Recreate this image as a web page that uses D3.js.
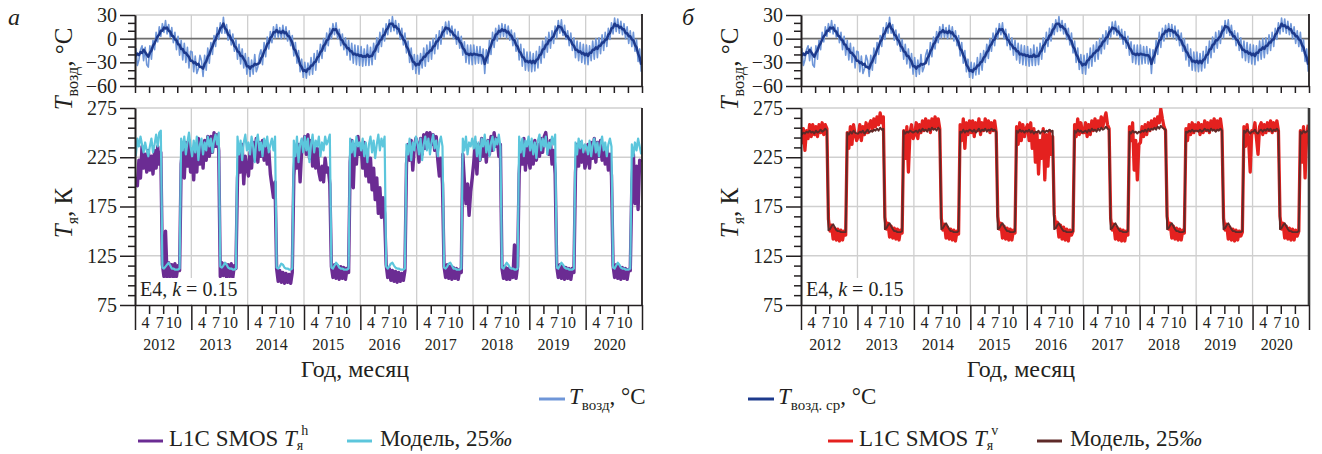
<!DOCTYPE html>
<html><head><meta charset="utf-8">
<script src="https://cdn.jsdelivr.net/npm/d3@7"></script>
<style>
body{margin:0;background:#fff;}
svg{display:block;}
svg text{font-family:'Liberation Serif','Times New Roman',Tinos,'DejaVu Serif',serif;}
</style></head><body>
<svg id="c" width="1322" height="454"></svg>
<script>
// ---------- DATA (36 samples per year, ~10-day steps) ----------
const years = [2012,2013,2014,2015,2016,2017,2018,2019,2020];
const monthLabels = ["4","7","10"];
const topMajorTicks = [30,0,-30,-60];
const topMinorTicks = [20,10,-10,-20,-40,-50];
const botMajorTicks = [275,225,175,125,75];
const botMinorTicks = [265,255,245,235,215,205,195,185,165,155,145,135,115,105,95,85];

// daily air temperature, °C (light blue)
const airRaw = [
 [-12,-34,-27,-14,-9,-28,-11,-33,-36,-9,-26,-2,-14,8,-4,15,3,19,8,23,6,18,2,14,-5,8,-14,3,-21,-2,-27,-6,-30,-11,-37,-16],
 [-17,-42,-22,-44,-38,-21,-28,-48,-21,-40,-12,-31,-5,-20,4,-10,14,-1,20,7,27,7,18,-2,11,-8,6,-16,-1,-26,-7,-32,-13,-37,-19,-45],
 [-24,-48,-27,-45,-20,-42,-36,-21,-14,-33,-5,-23,2,-13,9,-5,15,1,18,2,14,0,17,1,15,-3,10,-9,4,-22,-5,-31,-15,-42,-26,-49],
 [-30,-50,-31,-46,-24,-45,-19,-40,-15,-30,-7,-25,0,-16,7,-9,13,0,19,5,20,0,12,-9,6,-14,1,-21,-2,-27,-6,-31,-8,-33,-9,-34],
 [-10,-35,-13,-34,-8,-34,-11,-33,-6,-26,1,-17,8,-10,13,-3,19,5,24,9,28,10,23,6,19,-1,13,-8,7,-18,-3,-30,-12,-39,-20,-44],
 [-21,-45,-19,-37,-12,-35,-8,-29,-4,-26,0,-19,5,-13,10,-7,15,2,21,6,22,4,16,0,12,-7,9,-12,3,-21,-4,-30,-8,-32,-8,-33],
 [-8,-32,-10,-31,-10,-32,-13,-44,-14,-31,-2,-20,8,-11,13,-3,17,2,19,3,18,1,16,-2,11,-9,7,-16,0,-27,-7,-35,-13,-40,-17,-41],
 [-17,-42,-19,-41,-16,-37,-10,-31,-3,-24,2,-17,8,-12,10,-6,16,1,23,7,24,4,17,-1,10,-9,7,-15,1,-24,-3,-28,-5,-30,-7,-32],
 [-8,-33,-9,-28,-3,-26,0,-24,1,-19,5,-15,8,-10,13,-1,20,6,26,9,25,7,22,5,19,0,15,-6,10,-10,8,-16,-1,-29,-13,-42]
];
// smoothed air temperature, °C (dark blue)
const airMean = [
 [-22,-19,-21,-17,-18,-14,-17,-20,-23,-18,-15,-9,-6,-1,3,5,10,10,14,13,14,10,9,4,3,-1,-2,-7,-8,-13,-13,-18,-18,-21,-23,-28],
 [-28,-31,-30,-33,-32,-36,-36,-38,-32,-29,-23,-20,-14,-10,-4,-1,5,7,13,15,19,13,11,5,4,-1,-3,-9,-11,-16,-17,-22,-22,-26,-29,-35],
 [-35,-38,-35,-35,-32,-33,-32,-31,-25,-22,-16,-13,-7,-5,1,3,8,8,11,8,9,7,10,7,8,4,3,-1,-5,-13,-15,-21,-25,-33,-36,-41],
 [-40,-42,-38,-38,-34,-34,-30,-29,-24,-22,-17,-15,-9,-7,-2,-1,5,7,12,11,12,7,5,-1,-2,-7,-8,-12,-12,-16,-16,-20,-19,-21,-20,-22],
 [-21,-23,-22,-23,-20,-23,-22,-22,-17,-15,-9,-7,-2,-1,4,5,11,13,18,19,19,15,16,13,12,6,4,-1,-3,-10,-13,-20,-23,-29,-30,-34],
 [-32,-33,-28,-27,-23,-23,-19,-18,-15,-15,-10,-9,-4,-3,1,2,8,10,14,13,13,9,9,5,4,0,1,-4,-6,-12,-14,-19,-19,-21,-19,-21],
 [-19,-20,-20,-21,-21,-21,-24,-32,-25,-21,-13,-9,-2,-1,5,6,10,9,12,10,11,8,9,5,4,-1,-2,-8,-10,-16,-18,-23,-24,-29,-28,-30],
 [-28,-31,-28,-31,-27,-26,-21,-20,-14,-13,-8,-7,-2,-2,1,3,9,11,16,15,14,9,8,3,3,-1,-2,-7,-9,-14,-14,-17,-16,-19,-18,-21],
 [-19,-22,-18,-18,-14,-14,-11,-13,-9,-9,-5,-5,-1,-1,5,7,13,14,19,16,17,14,15,12,12,7,7,3,3,-1,-2,-8,-11,-19,-24,-33]
];
// L1C SMOS Tb, h-pol, K (purple)
const tbH = [
 [205,196,222,204,236,214,228,210,232,212,226,208,232,214,236,218,230,116,104,150,103,118,104,116,103,117,104,115,110,218,236,204,240,216,242,210],
 [232,202,238,210,244,218,238,214,242,222,246,226,246,230,250,236,248,232,104,118,105,117,103,116,104,117,103,115,112,204,230,210,238,198,226,214],
 [206,230,214,240,222,244,220,240,226,242,222,238,218,232,208,196,184,200,112,99,110,98,108,97,107,98,106,97,108,206,232,214,238,200,232,240],
 [246,228,248,224,242,216,238,214,234,210,202,216,200,224,210,214,198,114,103,116,102,115,101,114,102,113,101,112,108,220,242,194,238,218,246,228],
 [236,214,240,206,232,200,224,192,214,182,204,168,194,164,184,168,116,103,112,100,110,99,109,98,108,99,107,100,110,218,238,222,242,212,236,244],
 [238,220,244,228,248,234,250,236,250,238,248,232,246,222,206,224,198,114,103,116,102,114,101,113,102,112,101,111,108,228,200,178,198,166,190,204],
 [220,240,208,238,222,244,226,240,220,242,228,246,232,250,236,244,226,238,112,102,114,101,112,101,111,103,136,102,114,208,238,218,244,212,240,222],
 [214,236,218,242,222,238,226,244,230,246,250,236,228,242,218,232,208,114,103,116,102,114,101,113,102,112,101,112,108,210,238,216,240,220,236,214],
 [220,238,214,240,224,244,220,240,226,242,222,238,218,234,212,228,206,115,103,116,102,114,101,113,102,112,101,111,110,196,228,178,216,172,222,220]
];
// model h-pol, 25‰ (cyan)
const modelH = [
 [226,244,236,246,238,230,240,232,226,236,244,230,238,248,236,250,252,113,112,114,116,118,115,112,112,111,111,111,112,244,232,246,228,240,250,236],
 [226,242,230,246,222,238,244,228,240,232,246,236,244,230,242,248,238,250,114,113,115,118,116,113,112,112,111,111,112,246,228,242,222,240,248,232],
 [240,228,246,236,220,242,248,232,240,226,244,236,246,230,238,244,232,246,113,112,114,117,116,113,112,112,111,111,112,242,226,246,220,238,244,230],
 [246,232,244,220,238,248,230,242,236,246,226,240,232,246,238,242,248,113,112,115,118,116,113,112,112,111,111,111,112,244,230,242,226,246,236,240],
 [232,244,226,240,220,238,246,230,242,224,238,248,232,244,236,246,114,112,114,117,118,115,113,112,112,111,111,111,112,238,228,244,222,240,232,246],
 [240,228,244,222,238,246,232,244,228,240,248,234,242,226,240,246,236,113,112,114,117,118,115,112,112,111,111,111,112,244,232,246,228,240,236,244],
 [234,246,226,240,222,244,236,248,230,242,226,240,246,232,244,238,248,236,113,112,115,118,116,113,112,112,111,111,112,246,230,244,226,242,236,246],
 [232,244,228,240,224,242,248,232,244,236,246,228,240,234,246,238,248,113,112,115,118,116,113,112,112,111,111,111,112,240,228,244,234,242,230,238],
 [236,228,242,226,238,244,230,240,226,238,246,232,240,226,238,244,236,113,112,115,118,116,113,112,112,111,111,111,112,238,226,240,232,244,236,228]
];
// L1C SMOS Tb, v-pol, K (red)
const tbV = [
 [238,254,232,252,244,258,246,258,248,256,246,258,250,260,248,258,254,162,150,156,142,153,141,152,140,151,141,150,146,250,234,256,238,258,248,242],
 [246,258,242,256,248,260,250,258,262,252,264,256,266,258,270,260,266,164,152,158,144,155,143,153,142,152,141,151,148,252,224,256,210,250,258,244],
 [248,260,244,258,250,262,252,264,254,262,250,264,254,266,256,264,254,163,151,157,143,154,142,152,141,151,140,150,147,258,242,264,234,260,248,262],
 [250,262,246,260,252,264,248,260,252,264,254,262,250,260,252,262,250,165,152,158,143,155,142,153,141,152,141,151,148,256,238,260,242,258,246,254],
 [258,242,260,234,254,220,250,208,242,224,254,202,248,216,252,228,246,167,154,159,144,156,142,154,141,152,140,151,146,150,258,246,264,248,260,250],
 [250,260,246,258,248,262,252,264,254,262,256,266,256,264,270,258,254,163,151,157,142,154,141,152,140,151,140,150,146,256,242,260,212,242,202,238],
 [240,256,246,258,248,260,252,262,254,264,256,266,260,274,264,256,252,165,152,158,143,155,142,153,141,152,141,151,148,254,242,258,248,260,250,258],
 [252,260,248,258,250,262,252,260,250,262,254,264,252,262,254,264,252,163,151,157,142,154,141,152,140,151,141,150,145,149,256,236,258,242,210,252],
 [250,260,244,228,256,260,248,258,250,260,252,262,250,260,252,262,252,165,152,158,143,155,142,153,141,152,141,151,145,150,252,220,256,204,248,258]
];
// model v-pol, 25‰ (dark brown)
const modelV = [
 [248,250,249,251,250,252,250,251,249,252,250,251,253,251,252,254,252,151,152,155,157,154,151,150,150,149,149,149,149,250,248,251,249,252,250,249],
 [249,251,250,252,249,251,253,250,252,251,253,252,254,252,255,253,254,152,153,156,158,155,152,150,150,149,149,149,150,252,249,251,250,252,251,250],
 [251,252,250,253,251,254,252,253,251,254,252,255,253,254,252,255,253,152,153,156,158,155,152,150,150,149,149,149,150,251,250,253,250,252,251,253],
 [252,251,253,250,252,254,251,253,252,254,251,253,252,254,252,253,251,152,153,156,158,155,152,150,150,149,149,149,150,252,250,253,251,252,250,252],
 [251,253,250,252,249,251,250,252,249,251,252,250,252,251,253,251,252,152,153,156,158,155,152,150,150,149,149,149,149,150,252,250,253,251,252,250],
 [251,252,250,253,251,254,252,253,251,254,252,255,253,254,256,254,253,152,153,156,158,155,152,150,150,149,149,149,150,251,249,252,250,251,249,251],
 [250,252,251,253,251,254,252,254,253,255,253,256,254,257,255,254,253,152,153,156,158,155,152,150,150,149,149,149,150,251,250,252,251,253,251,252],
 [252,251,253,251,252,254,252,253,251,254,252,253,251,253,252,254,252,152,153,156,158,155,152,150,150,149,149,149,149,150,252,250,253,251,249,251],
 [251,253,250,249,252,253,251,253,252,254,252,254,251,253,252,254,252,152,153,156,158,155,152,150,150,149,149,149,149,150,251,249,252,250,251,252]
];

// ---------- DRAWING ----------
const FONT = "'Liberation Serif','Times New Roman',Tinos,'DejaVu Serif',serif";
const C = {raw:"#6f96d8", mean:"#1d3a8c", purple:"#6b2c93", cyan:"#5cc6dc", red:"#e4211f", brown:"#5e2a29", grid:"#cfcfcf", axis:"#231f20"};
const svg = d3.select("#c").attr("font-family", FONT);
const defs = svg.append("defs");
const yTop = d3.scaleLinear().domain([-60,30]).range([86,15]);
const yBot = d3.scaleLinear().domain([75,275]).range([305,108]);
const fmt = d => d < 0 ? "\u2212" + Math.abs(d) : String(d);

function toPoints(rows){
  const pts = [];
  rows.forEach((row,k)=>row.forEach((v,j)=>pts.push({t: years[k] + (j+0.5)/row.length, v})));
  return pts;
}

const panels = [
  {x0:135, x1:642, letter:"а", lx:8, series:[{rows:tbH,color:C.purple,w:3.4},{rows:modelH,color:C.cyan,w:2.2}]},
  {x0:801, x1:1309, letter:"б", lx:682, series:[{rows:tbV,color:C.red,w:3.3},{rows:modelV,color:C.brown,w:1.9}]}
];

const yearBounds = years.concat([years[years.length-1]+1]);
const quarterTicks = [];
years.forEach(y=>{ [0,0.25,0.5,0.75].forEach(q=>quarterTicks.push(y+q)); });
quarterTicks.push(years[years.length-1]+1);
const monthTicks = [];
years.forEach(y=>{ [0.25,0.5,0.75].forEach(q=>monthTicks.push(y+q)); });

function styleAxis(g, size){
  g.attr("font-family", FONT).attr("font-size", size);
  g.selectAll("path.domain").attr("stroke",C.axis).attr("stroke-width",1.6);
  g.selectAll(".tick line").attr("stroke",C.axis).attr("stroke-width",1.5);
  g.selectAll(".tick text").attr("fill",C.axis).attr("font-family",FONT).style("font-size",size+"px");
}
function txt(sel){ return sel.attr("font-family", FONT); }

panels.forEach((p,pi)=>{
  const x = d3.scaleLinear().domain([years[0], years[years.length-1]+1]).range([p.x0,p.x1]);
  const g = svg.append("g");

  defs.append("clipPath").attr("id","ct"+pi).append("rect")
    .attr("x",p.x0).attr("y",yTop(30)).attr("width",p.x1-p.x0).attr("height",yTop(-60)-yTop(30));
  defs.append("clipPath").attr("id","cb"+pi).append("rect")
    .attr("x",p.x0).attr("y",yBot(275)).attr("width",p.x1-p.x0).attr("height",yBot(75)-yBot(275));

  // ---- top panel grid ----
  g.append("g").selectAll("line").data(yearBounds.slice(1,-1)).join("line")
    .attr("x1",d=>x(d)).attr("x2",d=>x(d)).attr("y1",yTop(30)).attr("y2",yTop(-60))
    .attr("stroke",C.grid).attr("stroke-width",1.3);
  g.append("line").attr("x1",p.x0).attr("x2",p.x1).attr("y1",yTop(30)).attr("y2",yTop(30))
    .attr("stroke",C.grid).attr("stroke-width",1.3);
  g.append("line").attr("x1",p.x0).attr("x2",p.x1).attr("y1",yTop(0)).attr("y2",yTop(0))
    .attr("stroke","#6d6d6d").attr("stroke-width",1.6);

  // ---- top panel data ----
  const lt = d3.line().x(d=>x(d.t)).y(d=>yTop(d.v));
  const gt = g.append("g").attr("clip-path",`url(#ct${pi})`);
  gt.append("path").attr("d",lt(toPoints(airRaw))).attr("fill","none").attr("stroke",C.raw).attr("stroke-width",1.6).attr("stroke-linejoin","round");
  gt.append("path").attr("d",lt(toPoints(airMean))).attr("fill","none").attr("stroke",C.mean).attr("stroke-width",2.5).attr("stroke-linejoin","round");

  // ---- top panel axes ----
  g.append("g").attr("transform",`translate(${p.x0},0)`)
    .call(d3.axisLeft(yTop).tickValues(topMajorTicks).tickSize(15).tickSizeOuter(0).tickPadding(3).tickFormat(fmt))
    .call(a=>styleAxis(a,20));
  g.append("g").attr("transform",`translate(${p.x0},0)`)
    .call(d3.axisLeft(yTop).tickValues(topMinorTicks).tickSize(7).tickSizeOuter(0).tickFormat(""))
    .call(a=>styleAxis(a,20));
  g.append("g").attr("transform",`translate(0,${yTop(-60)})`)
    .call(d3.axisBottom(x).tickValues(quarterTicks).tickSize(7).tickSizeOuter(0).tickFormat(""))
    .call(a=>styleAxis(a,16));
  g.append("line").attr("x1",p.x1).attr("x2",p.x1).attr("y1",yTop(30)-1).attr("y2",yTop(-60))
    .attr("stroke",C.axis).attr("stroke-width",1.8);

  // ---- bottom panel grid ----
  g.append("g").selectAll("line").data(yearBounds.slice(1,-1)).join("line")
    .attr("x1",d=>x(d)).attr("x2",d=>x(d)).attr("y1",yBot(275)).attr("y2",yBot(75))
    .attr("stroke",C.grid).attr("stroke-width",1.3);
  g.append("g").selectAll("line").data(botMajorTicks.slice(0,-1)).join("line")
    .attr("x1",p.x0).attr("x2",p.x1).attr("y1",d=>yBot(d)).attr("y2",d=>yBot(d))
    .attr("stroke",C.grid).attr("stroke-width",1.3);

  // ---- bottom panel data ----
  const lb = d3.line().x(d=>x(d.t)).y(d=>yBot(d.v));
  const gb = g.append("g").attr("clip-path",`url(#cb${pi})`);
  p.series.forEach(s=>{
    gb.append("path").attr("d",lb(toPoints(s.rows))).attr("fill","none").attr("stroke",s.color)
      .attr("stroke-width",s.w).attr("stroke-linejoin","round");
  });

  // E4 label
  g.append("rect").attr("x",p.x0+2).attr("y",278).attr("width",104).attr("height",yBot(75)-279).attr("fill","#fff");
  const e4 = txt(g.append("text")).attr("x",p.x0+5).attr("y",296).attr("fill",C.axis).style("font-size","20px");
  e4.append("tspan").text("E4, ");
  e4.append("tspan").attr("font-style","italic").text("k");
  e4.append("tspan").text(" = 0.15");

  // ---- bottom panel axes ----
  g.append("g").attr("transform",`translate(${p.x0},0)`)
    .call(d3.axisLeft(yBot).tickValues(botMajorTicks).tickSize(15).tickSizeOuter(0).tickPadding(3).tickFormat(fmt))
    .call(a=>styleAxis(a,20));
  g.append("g").attr("transform",`translate(${p.x0},0)`)
    .call(d3.axisLeft(yBot).tickValues(botMinorTicks).tickSize(7).tickSizeOuter(0).tickFormat(""))
    .call(a=>styleAxis(a,20));
  g.append("g").attr("transform",`translate(0,${yBot(75)})`)
    .call(d3.axisBottom(x).tickValues(yearBounds).tickSize(25).tickSizeOuter(0).tickFormat(""))
    .call(a=>styleAxis(a,16));
  g.append("g").attr("transform",`translate(0,${yBot(75)})`)
    .call(d3.axisBottom(x).tickValues(monthTicks).tickSize(9).tickSizeOuter(0).tickFormat(""))
    .call(a=>{styleAxis(a,16); a.select("path.domain").remove();});
  g.append("line").attr("x1",p.x1).attr("x2",p.x1).attr("y1",yBot(275)).attr("y2",yBot(75))
    .attr("stroke",p.x1>1000?"#3a3a3a":C.axis).attr("stroke-width",p.x1>1000?2.6:1.8);

  // month and year labels
  g.append("g").selectAll("text").data(monthTicks).join("text")
    .attr("font-family",FONT)
    .attr("x",d=>x(d)-3.5).attr("y",328).attr("text-anchor","middle").attr("fill",C.axis).style("font-size","16px")
    .text((d,i)=>monthLabels[i%3]);
  g.append("g").selectAll("text").data(years).join("text")
    .attr("font-family",FONT)
    .attr("x",d=>x(d+0.5)-4).attr("y",350).attr("text-anchor","middle").attr("fill",C.axis).style("font-size","16px")
    .text(d=>d);
  txt(g.append("text")).attr("x",p.x0+220).attr("y",377).attr("text-anchor","middle").attr("fill",C.axis)
    .style("font-size","24px").text("Год, месяц");

  // y axis titles
  const t1 = txt(g.append("text")).attr("transform",`translate(${p.x0-63},69) rotate(-90)`).attr("text-anchor","middle")
    .attr("fill",C.axis).style("font-size","25px");
  t1.append("tspan").attr("font-style","italic").text("T");
  t1.append("tspan").attr("dy",6).style("font-size","16px").text("возд");
  t1.append("tspan").attr("dy",-6).text(", \u00B0C");
  const t2 = txt(g.append("text")).attr("transform",`translate(${p.x0-63},213) rotate(-90)`).attr("text-anchor","middle")
    .attr("fill",C.axis).style("font-size","25px");
  t2.append("tspan").attr("font-style","italic").text("T");
  t2.append("tspan").attr("dy",6).style("font-size","16px").text("я");
  t2.append("tspan").attr("dy",-6).text(", К");

  // panel letter
  txt(g.append("text")).attr("x",p.lx).attr("y",25).attr("font-style","italic").attr("fill",C.axis)
    .style("font-size","24px").text(p.letter);
});

// ---------- LEGEND ----------
const legendTop = [
  {color:C.raw, sub:"возд", x:539, y:404},
  {color:C.mean, sub:"возд. ср", x:748, y:404}
];
legendTop.forEach(L=>{
  svg.append("line").attr("x1",L.x).attr("x2",L.x+26).attr("y1",L.y-5).attr("y2",L.y-5)
    .attr("stroke",L.color).attr("stroke-width",3);
  const t = txt(svg.append("text")).attr("x",L.x+30).attr("y",L.y).attr("fill",C.axis).style("font-size","23px");
  t.append("tspan").attr("font-style","italic").text("T");
  t.append("tspan").attr("dy",6).style("font-size","15px").text(L.sub);
  t.append("tspan").attr("dy",-6).text(", \u00B0C");
});
const legendBottom = [
  {color:C.purple, kind:"obs", sup:"h", x:138, y:446},
  {color:C.cyan, kind:"model", x:347, y:446},
  {color:C.red, kind:"obs", sup:"v", x:828, y:446},
  {color:C.brown, kind:"model", x:1037, y:446}
];
legendBottom.forEach(L=>{
  svg.append("line").attr("x1",L.x).attr("x2",L.x+25).attr("y1",L.y-5).attr("y2",L.y-5)
    .attr("stroke",L.color).attr("stroke-width",3);
  const t = txt(svg.append("text")).attr("x",L.kind==="obs"?L.x+31:L.x+33).attr("y",L.y).attr("fill",C.axis).style("font-size","23px");
  if(L.kind==="obs"){
    t.append("tspan").text("L1C SMOS ");
    t.append("tspan").attr("font-style","italic").text("T");
    t.append("tspan").attr("dy",4).style("font-size","14px").text("я");
    t.append("tspan").attr("dy",-15).attr("dx",-2).style("font-size","14px").text(L.sup);
  } else {
    t.append("tspan").text("Модель, 25");
    t.append("tspan").attr("font-style","italic").text("\u2030");
  }
});
</script>
</body></html>
